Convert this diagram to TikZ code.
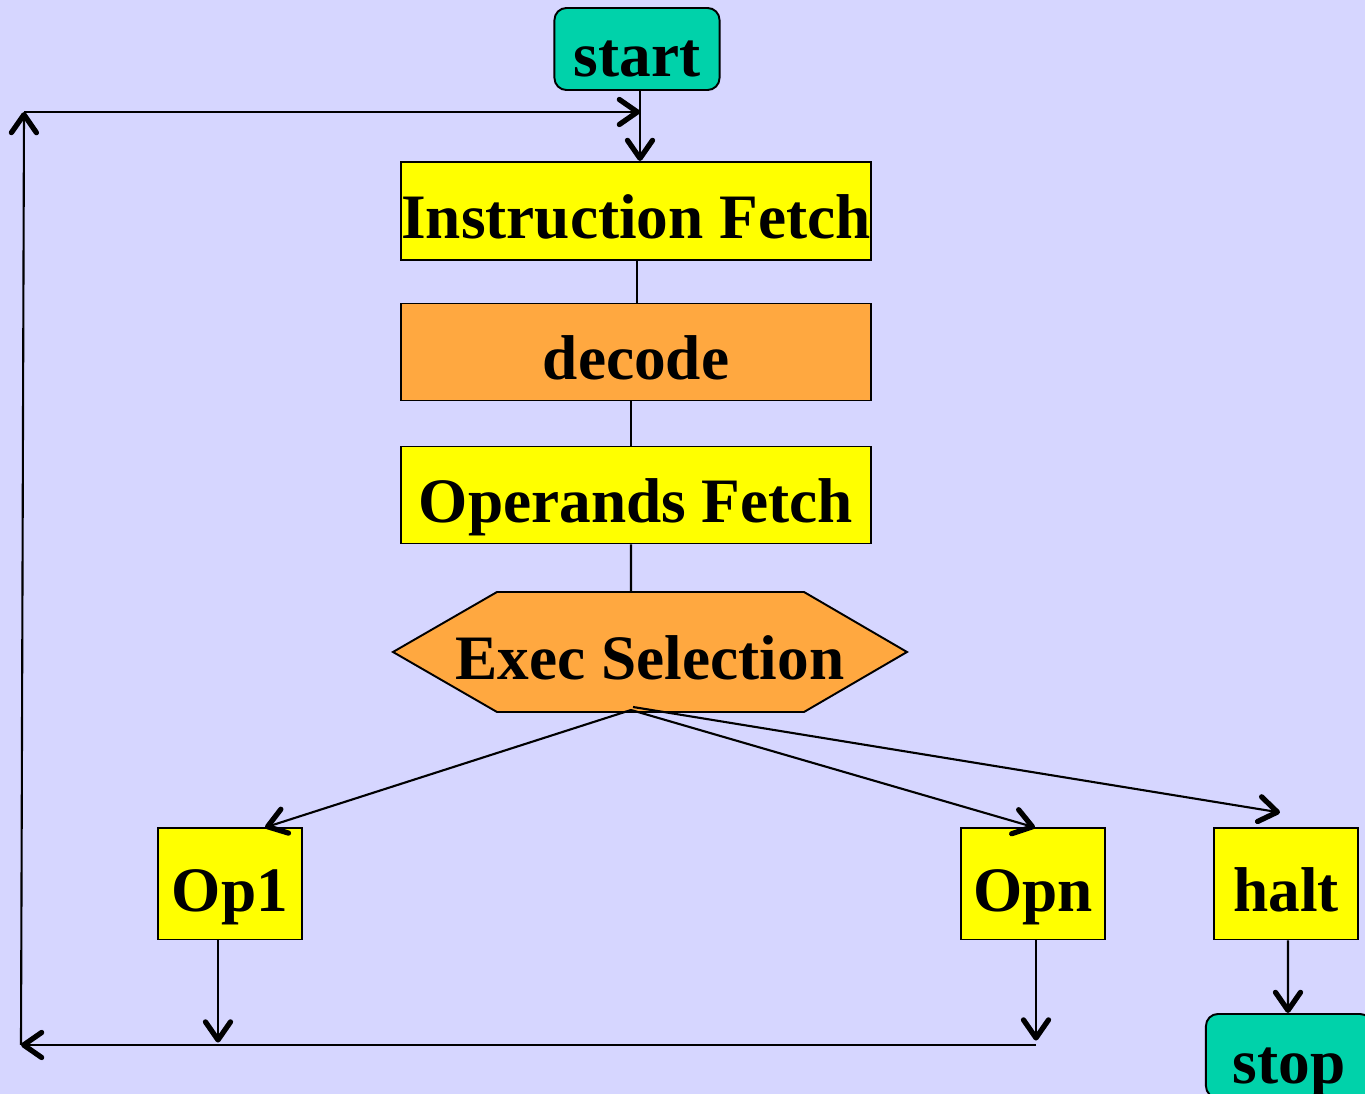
\documentclass[tikz,border=0pt]{standalone}
\usepackage{fontspec}
\setmainfont{Liberation Serif}
\usetikzlibrary{arrows.meta,calc}
\definecolor{pagebg}{RGB}{214,214,255}
\definecolor{boxyellow}{RGB}{255,255,0}
\definecolor{boxorange}{RGB}{255,168,64}
\definecolor{termteal}{RGB}{0,210,170}
\begin{document}
\begin{tikzpicture}[x=0.01cm,y=-0.01cm,
  every node/.style={font=\fontsize{18}{20}\selectfont\bfseries, inner sep=0pt,
    text height=15.4pt, text depth=0pt},
  stepbox/.style={draw, line width=0.55pt, rectangle, fill=boxyellow},
  decbox/.style={stepbox, fill=boxorange},
  term/.style={draw, line width=0.55pt, rectangle, rounded corners=0.12cm, fill=termteal,
    minimum width=1.65cm, minimum height=0.82cm},
  conn/.style={line width=0.6pt},
  arr/.style={conn, -{Straight Barb[length=1.8mm,width=2.5mm,line width=1.5pt,round]}}]

% page
\fill[pagebg] (0,0) rectangle (1365,1094);
\useasboundingbox (0,0) rectangle (1365,1094);

% main sequence
\node[term] (start) at (637,49) {start};
\node[stepbox, minimum width=4.70cm, minimum height=0.98cm] (ifetch) at (636,211) {Instruction Fetch};
\node[decbox, minimum width=4.70cm, minimum height=0.97cm] (decode) at (636,352) {decode};
\node[stepbox, minimum width=4.70cm, minimum height=0.97cm] (ofetch) at (636,495) {Operands Fetch};

% hexagonal selection box
\fill[boxorange, draw=black, line width=0.55pt]
  (393,652) -- (497,592) -- (804,592) -- (907,652) -- (804,712) -- (497,712) -- cycle;
\node[minimum width=5.14cm, minimum height=1.20cm] (exec) at (650,652) {Exec Selection};
\coordinate (execout) at (631,710);

% operations
\node[stepbox, minimum width=1.43cm, minimum height=1.11cm] (op1) at (230,884) {Op1};
\node[stepbox, minimum width=1.43cm, minimum height=1.11cm] (opn) at (1033,884) {Opn};
\node[stepbox, minimum width=1.44cm, minimum height=1.11cm] (halt) at (1286,884) {halt};
\node[term, minimum width=1.66cm, minimum height=0.84cm] (stop) at (1289,1056) {stop};

% loop corners
\coordinate (loopTL) at (24,112);
\coordinate (loopTR) at (640,112);
\coordinate (loopBL) at (21,1045);
\coordinate (loopBR) at (1036,1045);

% connectors
\draw[arr] ([xshift=0.03cm]start.south) -- ([xshift=0.04cm]ifetch.north);
\draw[conn] ([xshift=0.01cm]ifetch.south) -- ([xshift=0.01cm]decode.north);
\draw[conn] ([xshift=-0.05cm]decode.south) -- ([xshift=-0.05cm]ofetch.north);
\draw[conn] ([xshift=-0.05cm]ofetch.south) -- (631,592);

\draw[arr] (execout) -- ([xshift=0.35cm]op1.north);
\draw[arr] (execout) -- ([xshift=0.02cm]opn.north);
\draw[arr] ([xshift=0.02cm,yshift=0.03cm]execout) -- ([xshift=-0.06cm,yshift=0.15cm]halt.north);

\draw[arr] ([xshift=-0.12cm]op1.south) -- ([xshift=-0.12cm,yshift=-1.02cm]op1.south);
\draw[arr] ([xshift=0.03cm]opn.south) -- ([xshift=0.03cm,yshift=-1.00cm]opn.south);
\draw[arr] ([xshift=0.02cm]halt.south) -- ([xshift=-0.01cm]stop.north);

\draw[arr] (loopBR) -- (loopBL);
\draw[arr] (loopBL) -- (loopTL);
\draw[arr] (loopTL) -- (loopTR);
\end{tikzpicture}
\end{document}
